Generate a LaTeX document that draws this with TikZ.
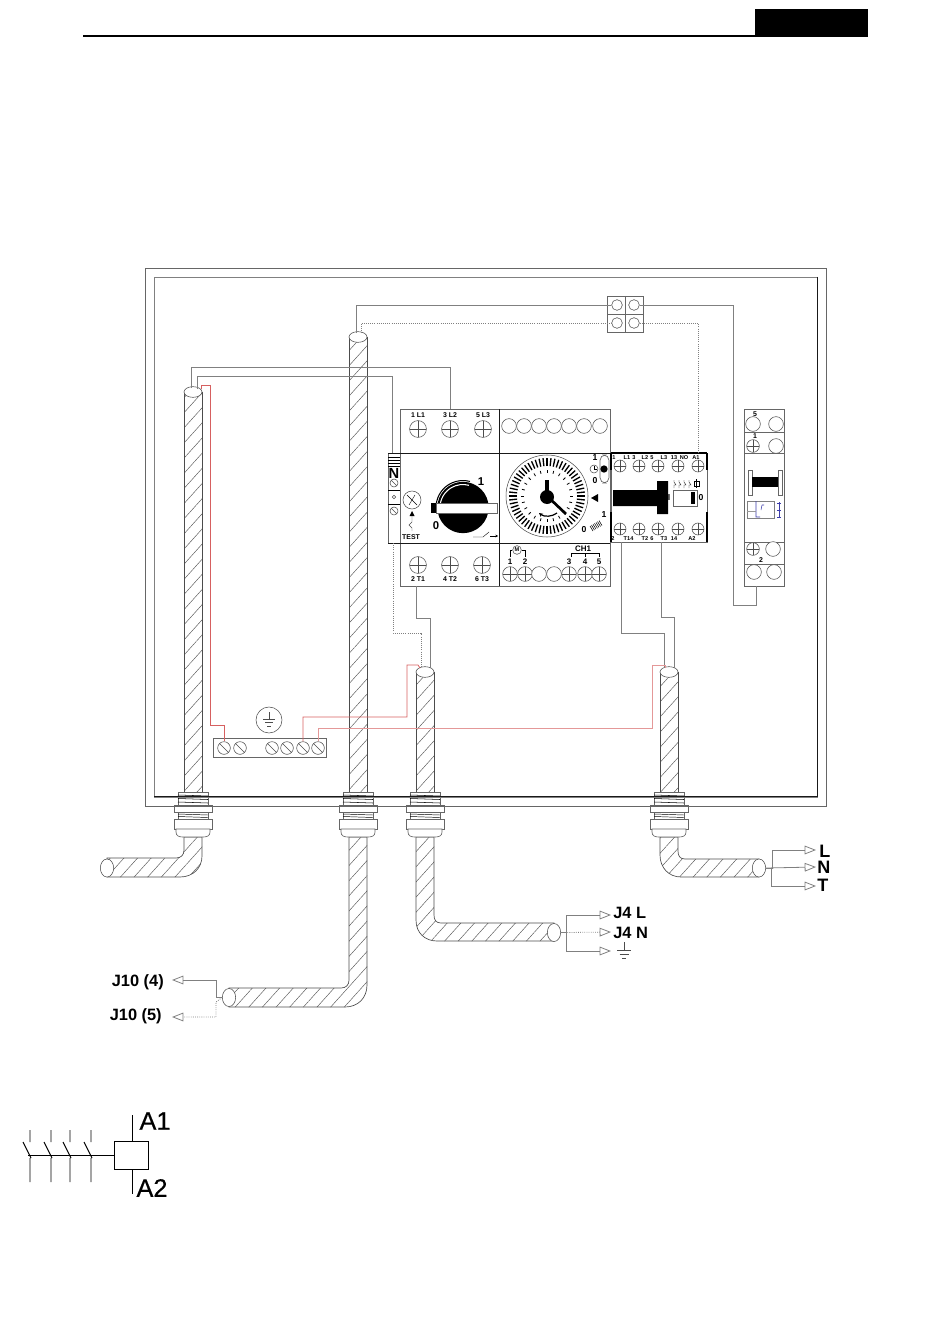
\documentclass[tikz,border=0pt]{standalone}
\usepackage{fontspec}
\setmainfont{Liberation Sans}
\newfontfamily\coilfont[FakeBold=0.5]{Liberation Sans}
\usetikzlibrary{shapes.geometric, arrows.meta, patterns.meta, calc}
\definecolor{wiregray}{gray}{0.5}
\definecolor{wirered}{RGB}{214,96,96}
\definecolor{markblue}{RGB}{60,60,170}
\tikzset{
  panel/.style={draw=black!60, line width=.5pt, fill=white},
  wire/.style={draw=wiregray, line width=.6pt},
  dotwire/.style={wire, densely dotted},
  redwire/.style={draw=wirered, line width=.6pt},
  lead/.style={wire, -{Triangle[open, length=8.5pt, width=6.5pt]}},
  dotlead/.style={lead, densely dotted},
  duct/.style={draw=black!70, line width=.5pt, pattern color=black!65, pattern={Lines[angle=48, distance=7.6pt, line width=.35pt]}},
  ductend/.style={ellipse, draw=black!70, line width=.4pt, fill=white, inner sep=0pt, minimum width=13.5pt, minimum height=8pt},
  sideend/.style={ductend, minimum width=10pt, minimum height=13.5pt},
  pinhole/.style={circle, draw=black!70, line width=.4pt, fill=white, inner sep=0pt, minimum size=#1},
  pinhole/.default=11pt,
  screw/.style={pinhole=#1, path picture={\draw[line width=.3pt] (path picture bounding box.north) -- (path picture bounding box.south) (path picture bounding box.west) -- (path picture bounding box.east);}},
  screw/.default=12.6pt,
  slotted/.style={pinhole=#1, path picture={\draw[line width=.3pt] (path picture bounding box.north west) -- (path picture bounding box.south east);}},
  slotted/.default=9.5pt,
  tag/.style={inner sep=0pt, font=\bfseries\fontsize{5.2}{6}\selectfont},
  tinytag/.style={inner sep=0pt, font=\bfseries\fontsize{4.2}{5}\selectfont},
  dialtag/.style={inner sep=0pt, font=\bfseries\fontsize{8.5}{9}\selectfont},
  outname/.style={inner sep=0pt, font=\bfseries\fontsize{#1}{#1}\selectfont},
  outname/.default=12.3,
  coilname/.style={inner sep=0pt, font=\coilfont\fontsize{19}{19}\selectfont},
  gland/.pic={
    \draw[panel] (-15,0) rectangle (15,13);
    \foreach \v in {3,6.5,10} \draw[line width=.4pt] (-15,\v) -- (15,\v+1);
    \draw[panel, fill=white] (-19,13) rectangle (19,20);
    \draw[panel] (-15,20) rectangle (15,27);
    \foreach \v in {22,24.5} \draw[line width=.35pt] (-15,\v) -- (15,\v+1);
    \draw[panel] (-19,27) rectangle (19,37);
    \draw[panel] (-17,37) -- (-17,40) .. controls (-17,44) and (-14,45) .. (-10,45) -- (10,45) .. controls (14,45) and (17,44) .. (17,40) -- (17,37) -- cycle;
  },
  earth/.pic={
    \draw[draw=black!70, line width=.35pt] (0,-8) -- (0,0) (-7,0) -- (7,0) (-4.5,4) -- (4.5,4) (-2,8) -- (2,8);
  },
}

\begin{document}
\begin{tikzpicture}[x=0.75pt, y=-0.75pt]
  \useasboundingbox (0,0) rectangle (950,1344);

  % Header
  \draw[draw=black, line width=1.5pt] (83,36) -- (755,36);
  \fill[black] (755,9) rectangle (868,37);

  % Conduits
  \path[duct] (184,392) -- (184,792) -- (202,792) -- (202,392) -- cycle;
  \path[duct] (349,337) -- (349,792) -- (367,792) -- (367,337) -- cycle;
  \path[duct] (416,672) -- (416,792) -- (434,792) -- (434,672) -- cycle;
  \path[duct] (660,672) -- (660,792) -- (678,792) -- (678,672) -- cycle;
  \path[duct] (184,837) -- (184,850) .. controls (184,855) and (181,858) .. (176,858) -- (107,858) -- (107,877) -- (180,877) .. controls (193,877) and (202,868) .. (202,856) -- (202,837) -- cycle;
  \path[duct] (349,837) -- (349,980) .. controls (349,985) and (346,988) .. (341,988) -- (229,988) -- (229,1007) -- (345,1007) .. controls (358,1007) and (367,998) .. (367,985) -- (367,837) -- cycle;
  \path[duct] (416,837) -- (416,920) .. controls (416,933) and (425,941) .. (437,941) -- (554,941) -- (554,923) -- (441,923) .. controls (436,923) and (434,920) .. (434,915) -- (434,837) -- cycle;
  \path[duct] (660,837) -- (660,855) .. controls (660,868) and (669,877) .. (681,877) -- (759,877) -- (759,859) -- (685,859) .. controls (680,859) and (678,856) .. (678,851) -- (678,837) -- cycle;
  \node[ductend] (c1end) at (193,392) {};
  \node[ductend] (c2end) at (358,337) {};
  \node[ductend] (c3end) at (425,672) {};
  \node[ductend] (c4end) at (669,672) {};
  \node[sideend] (c1side) at (107,868) {};
  \node[sideend] (c2side) at (229,997.5) {};
  \node[sideend] (c3side) at (554,932.5) {};
  \node[sideend] (c4side) at (759,868) {};

  % Glands
  \foreach \x in {193,358,425,669}
    \pic at (\x,792) {gland};

  % Enclosure
  \draw[draw=black!60, line width=.6pt] (145,268) rectangle (826,806);
  \draw[draw=black!50, line width=.6pt] (154,277) rectangle (817,797);
  \draw[draw=black!90, line width=.6pt] (817,277) -- (817,796) -- (154,796);

  % Motor starter and timer blocks
  \draw[panel] (388,453) rectangle (400,543);
  \draw[panel] (400,409) rectangle (499,453);
  \draw[panel] (499,409) rectangle (610,453);
  \draw[panel] (400,453) rectangle (499,543);
  \draw[panel] (499,453) rectangle (610,543);
  \draw[panel] (400,543) rectangle (499,586);
  \draw[panel] (499,543) rectangle (610,586);
  \draw[draw=black!90, line width=.6pt] (499,409) -- (499,586) (388,453) -- (610,453) (388,543) -- (610,543);
  \foreach \x/\tname/\txt in {418/tl1/1 L1, 450/tl2/3 L2, 483/tl3/5 L3} {
    \node[screw] (\tname) at (\x,429) {};
    \node[tag] at (\x,415) {\txt};
  }
  \foreach \x/\tname/\txt in {418/tt1/2 T1, 450/tt2/4 T2, 482/tt3/6 T3} {
    \node[screw] (\tname) at (\x,565) {};
    \node[tag] at (\x,579) {\txt};
  }
  \foreach \x in {509,524,539,554,569,584,600}
    \node[pinhole] at (\x,426) {};
  \foreach \x/\tname/\txt in {510/m1/1, 525/m2/2, 569/ch3/3, 585/ch4/4, 599/ch5/5} {
    \node[screw=11pt] (\tname) at (\x,574) {};
    \node[tag, font=\bfseries\fontsize{6}{6}\selectfont] at (\x,562) {\txt};
  }
  \node[pinhole] at (539,574) {};
  \node[pinhole] at (554,574) {};

  % N strip
  \foreach \v in {457,460,463,466} \draw[line width=.3pt] (388,\v) -- (400,\v);
  \node[inner sep=0pt, font=\bfseries\fontsize{11}{11}\selectfont] at (394,473) {N};
  \node[slotted=6pt] (nscrew) at (394,483) {};
  \node[pinhole=2.5pt] (ndot) at (394,497) {};
  \node[slotted=6pt] (nlow) at (394,511) {};
  \draw[line width=.3pt] (388,490) -- (400,490) (388,504) -- (400,504);

  % Rotary handle
  \node[circle, fill=black, inner sep=0pt, minimum size=38.5pt] (knob) at (463,507.5) {};
  \draw[white, line width=.8pt] (463,507.5) ++(180:23) arc[start angle=180, end angle=285, radius=23];
  \draw[black, line width=.8pt] (463,507.5) ++(185:27) arc[start angle=185, end angle=285, radius=27];
  \fill[black] (431,503) rectangle (436,513);
  \draw[panel] (436,503) rectangle (497,513);
  \node[dialtag] at (481,482) {1};
  \node[dialtag] at (436,526) {0};
  \node[pinhole=13.5pt] (testdial) at (412,500) {};
  \draw[line width=.3pt] (407,495) -- (417,505) (409,505) -- (415,495);
  \fill[black] (412,511) -- (409.5,516) -- (414.5,516) -- cycle;
  \draw[draw=black!70, line width=.3pt] (412,516) -- (412,522) -- (409,525) -- (412,528) -- (412,531);
  \node[tag] at (411,537) {TEST};
  \draw[line width=.3pt] (473,537) -- (483,537) -- (489,532);
  \draw[-{Stealth[length=2pt, width=2pt]}, line width=.3pt] (490,536) -- (498,536);

  % Timer dial
  \begin{scope}[shift={(547,496)}]
    \node[pinhole=61.5pt, fill=none] (timer) at (0,0) {};
    \foreach \a in {0,6,...,354}
      \draw[line width=1pt] (\a:30) -- (\a:38);
    \foreach \a in {0,15,...,345}
      \draw[line width=.6pt] (\a:23) -- (\a:26);
    \draw[line width=2.8pt] (0,-16) -- (0,0);
    \draw[line width=2pt] (0,0) -- (19,18);
    \fill[black] (0,1) circle[radius=7];
    \draw[line width=.9pt, -{Stealth[length=3pt, width=3pt]}] (10,17) .. controls (5,21) and (-3,21) .. (-8,17);
  \end{scope}
  \fill[black] (591,498) -- (598,494) -- (598,502) -- cycle;
  \draw[panel, rounded corners=4pt] (600,455) rectangle (609,483);
  \node[circle, fill=black, inner sep=0pt, minimum size=5.5pt] (timerled) at (604,469) {};
  \node[pinhole=6pt] (clock) at (594,469) {};
  \draw[line width=.4pt] (594,466) -- (594,469) -- (597,469);
  \node[inner sep=0pt, font=\bfseries\fontsize{6.5}{7}\selectfont] at (595,458) {1};
  \node[inner sep=0pt, font=\bfseries\fontsize{6.5}{7}\selectfont] at (595,481) {0};
  \foreach \v in {0,1.5,...,9}
    \draw[line width=.4pt] (590+\v,526-\v*.6) -- (593+\v,531-\v*.6);
  \node[inner sep=0pt, font=\bfseries\fontsize{6.5}{7}\selectfont] at (584,530) {0};
  \node[inner sep=0pt, font=\bfseries\fontsize{6.5}{7}\selectfont] at (604,515) {1};

  % Terminal brackets of the timer
  \node[pinhole=6.5pt] (mot) at (517,550) {};
  \node[tinytag] at (517,550) {M};
  \draw[line width=.3pt] (510,557) -- (510,550) -- (mot) -- (525,550) -- (525,557);
  \node[inner sep=0pt, font=\bfseries\fontsize{6}{6}\selectfont] (ch) at (583,549) {CH1};
  \draw[line width=.3pt] (571,557) -- (571,553) -- (599,553) -- (599,557) (585,553) -- (585,557);

  % Contactor
  \draw[panel] (611,453) rectangle (707,542);
  \draw[draw=black, line width=.8pt] (611,453) -- (707,453) (611,453) -- (611,470) (707,453) -- (707,470) (611,512) -- (611,542) (707,512) -- (707,542);
  \foreach \x/\tname in {620/ka, 639/kb, 658/kc, 678/kd, 698/ke} {
    \node[screw=9pt] (\tname top) at (\x,466) {};
    \node[screw=9pt] (\tname low) at (\x,529) {};
  }
  \foreach \x/\txt in {614/1, 627/L1, 634/3, 645/L2, 652/5, 664/L3, 674/13, 684/NO, 696/A1}
    \node[tinytag] at (\x,458) {\txt};
  \foreach \x/\txt in {613/2, 627/T1, 632/4, 645/T2, 652/6, 664/T3, 674/14, 692/A2}
    \node[tinytag] at (\x,539) {\txt};
  \fill[black] (613,490) rectangle (668,506) (657,481) rectangle (668,514);
  \node[inner sep=0pt, font=\bfseries\fontsize{6.5}{7}\selectfont] at (669,498) {I};
  \draw[panel] (673,490) rectangle (697,506);
  \fill[black] (691,492) rectangle (695,504);
  \node[inner sep=0pt, font=\bfseries\fontsize{6.5}{7}\selectfont] at (701,498) {0};
  \foreach \x in {674,679,684,689}
    \draw[line width=.25pt] (\x,480) -- (\x,482) -- (\x+2,485) -- (\x,485) -- (\x,488);
  \draw[line width=.25pt] (694,481) rectangle (699,486) (696.5,479) -- (696.5,488);

  % Breaker
  \draw[panel] (744,409) rectangle (784,586);
  \draw[draw=black!60, line width=.5pt] (744,432) -- (784,432) (744,453) -- (784,453) (744,542) -- (784,542) (744,564) -- (784,564);
  \node[tag] at (755,414) {5};
  \node[pinhole] (bk5) at (753,424) {};
  \node[pinhole] (bk5b) at (776,424) {};
  \node[tag] at (755,436) {1};
  \node[screw=9.5pt] (bk1) at (753,446) {};
  \node[pinhole] (bk1b) at (776,446) {};
  \node[screw=9.5pt] (bk2) at (753,549) {};
  \node[pinhole] (bk2b) at (773,549) {};
  \node[tag] at (761,560) {2};
  \node[pinhole] (bk3) at (754,572) {};
  \node[pinhole] (bk3b) at (774,572) {};
  \draw[panel] (748,470) rectangle (752,495);
  \draw[panel] (778,470) rectangle (782,495);
  \fill[black] (752,477) rectangle (778,487);
  \draw[draw=black!50, line width=.4pt] (747,501) rectangle (774,518);
  \draw[draw=markblue, line width=.4pt] (756,501) -- (756,517) -- (760,517) (762,505) -- (761,510) (762,505) -- (764,505);
  \draw[draw=black!40, line width=.3pt] (747,511) -- (756,511);
  \draw[draw=markblue, line width=.4pt] (779,502) -- (779,518) (777,503) -- (781,503) (777,510) -- (781,510) (777,517) -- (781,517);

  % Splice block
  \draw[panel] (607,296) rectangle (643,332);
  \draw[draw=black!60, line width=.5pt] (625,296) -- (625,332) (607,314) -- (643,314);
  \node[pinhole=8pt] (sa) at (617,305) {};
  \node[pinhole=8pt] (sb) at (634,305) {};
  \node[pinhole=8pt] (sc) at (617,323) {};
  \node[pinhole=8pt] (sd) at (634,323) {};

  % Earth bar
  \draw[panel] (213,738) rectangle (326,757);
  \foreach \x/\tname in {224/ea, 240/eb, 272/ec, 287/ed, 303/ee, 318/ef}
    \node[slotted] (\tname) at (\x,748) {};
  \node[pinhole=19.5pt] (earthdisc) at (269,720) {};
  \pic[scale=.85] at (269,719) {earth};

  % Pins
  \coordinate (pinl2) at (450,409);
  \coordinate (pinn) at (392,453);
  \coordinate (pinnlow) at (393,543);
  \coordinate (pint1) at (416,586);
  \coordinate (pina1) at (698,453);
  \coordinate (pinkt1) at (621,542);
  \coordinate (pinkt3) at (661,542);
  \coordinate (pinbk) at (756,586);
  \coordinate (c1a) at (191,388);
  \coordinate (c1b) at (197,389);
  \coordinate (c1r) at (201,389);
  \coordinate (c2a) at (356,333);
  \coordinate (c2b) at (361,333);
  \coordinate (c3a) at (430,668);
  \coordinate (c3b) at (421,668);
  \coordinate (c3r) at (420,668);
  \coordinate (c4a) at (674,668);
  \coordinate (c4b) at (664,668);
  \coordinate (c4r) at (665,668);

  % Wires
  \draw[wire] (c1a) -- (191,367) -| (pinl2);
  \draw[wire] (c1b) -- (197,376) -| (pinn);
  \draw[wire] (c2a) -- (356,305) -- (sa.west);
  \draw[dotwire] (c2b) -- (361,323) -- (sc.west);
  \draw[wire] (sb.east) -- (733,305) -- (733,605) -| (pinbk);
  \draw[dotwire] (sd.east) -- (698,323) -- (pina1);
  \draw[wire] (pint1) -- (416,618) -| (c3a);
  \draw[dotwire] (pinnlow) -- (393,633) -| (c3b);
  \draw[wire] (pinkt1) -- (621,633) -| (c4b);
  \draw[wire] (pinkt3) -- (661,617) -| (c4a);
  \draw[redwire] (c1r) -- (201,385) -- (210,385) -- (210,725) -| (ea);
  \draw[redwire] (c3r) -- (418,665) -- (407,665) -- (407,717) -| (ee);
  \draw[redwire, draw=wirered!65] (c4r) -- (665,665) -- (652,665) -- (652,728) -| (ef);

  % Outgoing leads
  \node[outname=13.5, anchor=west] (lname) at (819,851) {L};
  \node[outname=13.5, anchor=west] (nname) at (817,867) {N};
  \node[outname=13.5, anchor=west] (tname) at (817,885) {T};
  \node[outname, anchor=west] (j4l) at (613,913) {J4 L};
  \node[outname, anchor=west] (j4n) at (613,933) {J4 N};
  \node[outname, anchor=east] (j104) at (164,982) {J10 (4)};
  \node[outname, anchor=east] (j105) at (162,1016) {J10 (5)};
  \pic at (624,950) {earth};
  \coordinate (tipl) at (816,850);
  \coordinate (tipn) at (816,867);
  \coordinate (tipt) at (816,886);
  \coordinate (tipj4l) at (611,915);
  \coordinate (tipj4n) at (611,932);
  \coordinate (tipj4e) at (611,951);
  \coordinate (tipj104) at (172,980);
  \coordinate (tipj105) at (172,1017);
  \draw[lead] (c4side.east) -- (772,868) -- (772,850) -- (tipl);
  \draw[lead] (c4side.east) -- (tipn);
  \draw[lead] (c4side.east) -- (771,868) -- (771,886) -- (tipt);
  \draw[lead] (c3side.east) -- (566,932.5) -- (566,915) -- (tipj4l);
  \draw[dotlead] (c3side.east) -- (566,932.5) -- (tipj4n);
  \draw[lead] (c3side.east) -- (566,932.5) -- (566,951) -- (tipj4e);
  \draw[lead] (c2side.west) -- (216,997.5) -- (216,980) -- (tipj104);
  \draw[dotlead] (c2side.west) -- (216,1002) -- (216,1017) -- (tipj105);

  % Contactor symbol
  \node[draw=black, line width=.7pt, inner sep=0pt, minimum width=25.5pt, minimum height=21pt] (coil) at (131,1155) {};
  \node[coilname] (a1) at (155,1121) {A1};
  \node[coilname] (a2) at (152,1188) {A2};
  \coordinate (coiltop) at (132,1115);
  \coordinate (coillow) at (132,1194);
  \coordinate (polestart) at (28,1155);
  \draw[line width=.7pt] (coiltop) -- (coil.north -| coiltop);
  \draw[line width=.7pt] (coil.south -| coillow) -- (coillow);
  \draw[line width=.7pt] (polestart) -- (coil.west);
  \foreach \x in {30,51,70,91}
    \draw[line width=.7pt] (\x,1130) -- (\x,1142) (\x-7,1142) -- (\x+1,1158) (\x,1158) -- (\x,1182);
\end{tikzpicture}
\end{document}
